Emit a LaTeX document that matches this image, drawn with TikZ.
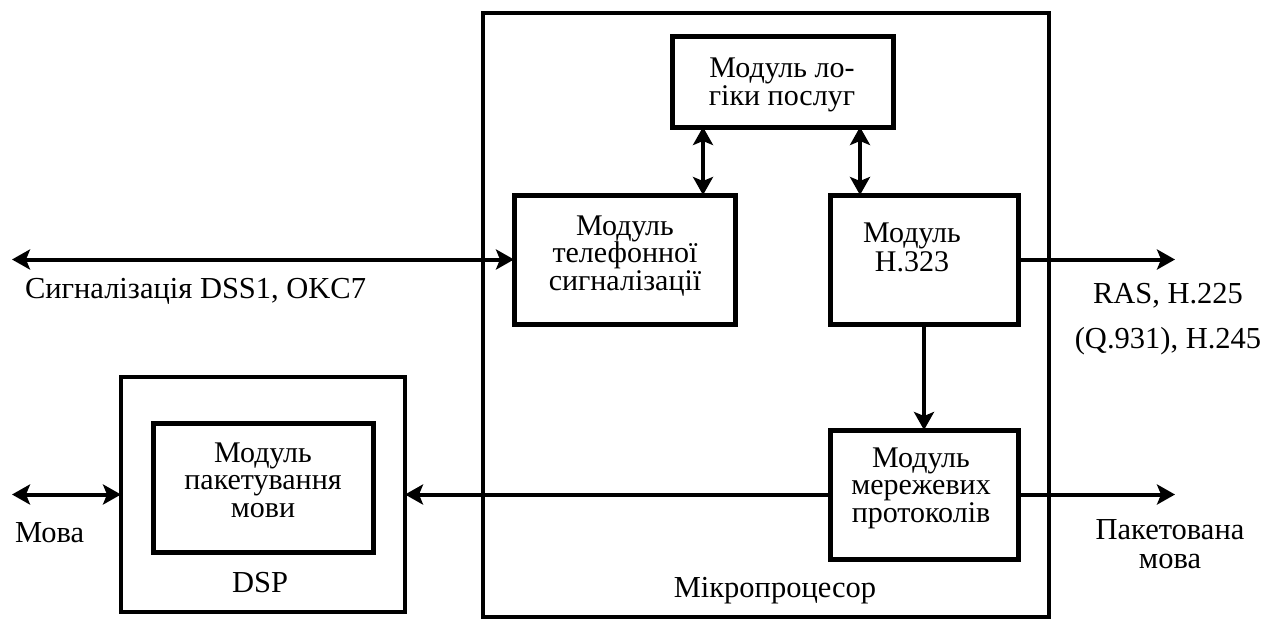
\documentclass[tikz,border=0pt]{standalone}
\usepackage{fontspec}
\setmainfont{Liberation Serif}
\usetikzlibrary{arrows.meta}
\begin{document}
\begin{tikzpicture}[x=1pt,y=-1pt,
  box/.style={draw, rectangle, line width=5pt, inner sep=0pt, outer sep=0pt},
  frame/.style={draw, rectangle, line width=4pt, inner sep=0pt, outer sep=0pt},
  conn/.style={line width=4pt, -{Stealth[length=18pt,width=20pt,inset=4pt]}},
  dbl/.style={line width=4pt, {Stealth[length=18pt,width=20pt,inset=4pt]}-{Stealth[length=18pt,width=20pt,inset=4pt]}},
  txt/.style={inner sep=0pt, outer sep=0pt, anchor=base, align=center, font=\fontsize{30}{28}\selectfont},
  lbl/.style={inner sep=0pt, outer sep=0pt, anchor=base, align=center, font=\fontsize{30.5}{28}\selectfont}]
\fill[white] (0,0) rectangle (1281,619);
\useasboundingbox (0,0) rectangle (1281,619);

% boxes
\node[frame, minimum width=566pt, minimum height=604pt] (mp) at (766,315) {};
\node[frame, minimum width=284pt, minimum height=235pt] (dsp) at (263,494.5) {};
\node[box, minimum width=221pt, minimum height=91pt] (logic) at (782.5,81.5) {};
\node[box, minimum width=221pt, minimum height=129pt] (tel) at (624.5,259.5) {};
\node[box, minimum width=188pt, minimum height=129pt] (h323) at (924,259.5) {};
\node[box, minimum width=188pt, minimum height=129pt] (net) at (924,494.5) {};
\node[box, minimum width=220pt, minimum height=129pt] (pack) at (263,487.5) {};

% texts (anchored at the baseline of the last line)
\node[txt] (tlogic) at (782,105) {Модуль ло-\\гіки послуг};
\node[txt, font=\fontsize{30}{27.5}\selectfont] (ttel) at (625,290) {Модуль\\телефонної\\сигналізації};
\node[txt, font=\fontsize{30}{29}\selectfont] (th323) at (912,271) {Модуль\\H.323};
\node[txt, font=\fontsize{30}{27.5}\selectfont] (tnet) at (921,522) {Модуль\\мережевих\\протоколів};
\node[txt, font=\fontsize{30}{27.5}\selectfont] (tpack) at (263,517) {Модуль\\пакетування\\мови};
\node[lbl] (tdsp) at (260,592) {DSP};
\node[lbl] (tmp) at (775,597) {Мікропроцесор};
\node[lbl, anchor=base west] (tsig) at (25,298) {Сигналізація DSS1, OKC7};
\node[lbl, anchor=base west] (tmova) at (15,542) {Мова};
\node[lbl, font=\fontsize{30.5}{45}\selectfont] (tras) at (1168,348) {RAS, H.225\\(Q.931), H.245};
\node[lbl, font=\fontsize{30.5}{28.5}\selectfont] (tpm) at (1170,568) {Пакетована\\мова};

% free ends
\coordinate (sigL) at (12,259.5);
\coordinate (movaL) at (12,494.5);
\coordinate (rasR) at (1175,259.5);
\coordinate (pmR) at (1175,494.5);

% connectors
\draw[dbl] (sigL) -- (tel.west);
\draw[dbl] (movaL) -- (dsp.west);
\draw[dbl] ([xshift=31pt]logic.south west) -- ([xshift=189pt]tel.north west);
\draw[dbl] ([xshift=188pt]logic.south west) -- ([xshift=30pt]h323.north west);
\draw[conn] (h323.south) -- (net.north);
\draw[conn] (h323.east) -- (rasR);
\draw[conn] (net.east) -- (pmR);
\draw[conn] (net.west) -- (dsp.east);
\end{tikzpicture}
\end{document}
